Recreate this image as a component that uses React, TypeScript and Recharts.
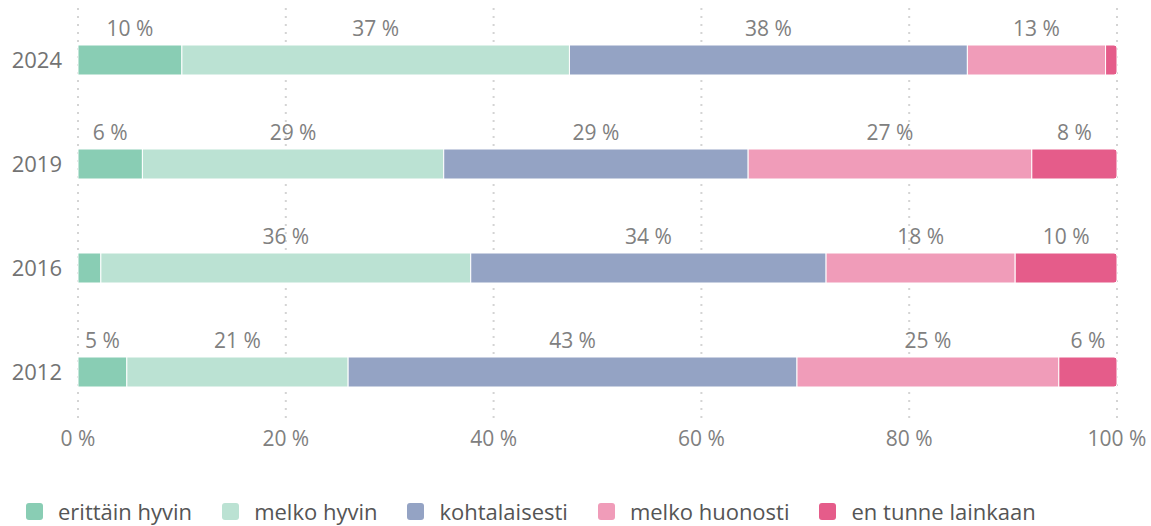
import React from "react";
import {
  BarChart,
  Bar,
  XAxis,
  YAxis,
  CartesianGrid,
  LabelList,
} from "recharts";

const YEARS = ["2024", "2019", "2016", "2012"];
const ERITTAIN_HYVIN = [10.0, 6.2, 2.2, 4.7];
const MELKO_HYVIN = [37.3, 29.0, 35.6, 21.3];
const KOHTALAISESTI = [38.3, 29.3, 34.2, 43.2];
const MELKO_HUONOSTI = [13.3, 27.3, 18.2, 25.2];
const EN_TUNNE = [1.1, 8.2, 9.8, 5.6];
const X_TICKS = [0, 20, 40, 60, 80, 100];

const SERIES = [
  { key: "erittainHyvin", name: "erittäin hyvin", color: "#89cdb4", values: ERITTAIN_HYVIN },
  { key: "melkoHyvin", name: "melko hyvin", color: "#bbe2d3", values: MELKO_HYVIN },
  { key: "kohtalaisesti", name: "kohtalaisesti", color: "#94a3c4", values: KOHTALAISESTI },
  { key: "melkoHuonosti", name: "melko huonosti", color: "#f09cb9", values: MELKO_HUONOSTI },
  { key: "enTunne", name: "en tunne lainkaan", color: "#e55c8a", values: EN_TUNNE },
];

const data = YEARS.map((year, i) => {
  const row: any = { year };
  SERIES.forEach(s => {
    row[s.key] = s.values[i];
  });
  return row;
});

const FONT = "'Open Sans', sans-serif";

// value label above each segment, small ones are skipped
const renderValueLabel = (props: any) => {
  const { x, y, width, value } = props;
  if (value == null || value < 3) return null;
  return (
    <text
      x={Number(x) + Number(width) / 2}
      y={Number(y) - 9}
      textAnchor="middle"
      fill="#808080"
      fontSize={21}
      fontFamily={FONT}
    >
      {Math.round(value)} %
    </text>
  );
};

export default function App() {
  return (
    <div style={{ position: "absolute", left: 0, top: 0, width: 1151, height: 526, background: "#fff", overflow: "hidden" }}>
      <BarChart
        width={1151}
        height={470}
        data={data}
        layout="vertical"
        margin={{ top: 8, right: 34, left: 0, bottom: 16 }}
        barSize={30}
      >
        <CartesianGrid
          horizontal={false}
          stroke="#d4d4d4"
          strokeWidth={2}
          strokeDasharray="2 6"
        />
        <XAxis
          type="number"
          domain={[0, 100]}
          ticks={X_TICKS}
          tickFormatter={(v: number) => `${v} %`}
          axisLine={false}
          tickLine={false}
          tickSize={6}
          tickMargin={1}
          height={30}
          tick={{ fill: "#808080", fontSize: 21, fontFamily: FONT }}
        />
        <YAxis
          type="category"
          dataKey="year"
          width={78}
          axisLine={false}
          tickLine={false}
          tickSize={0}
          tickMargin={16}
          tick={{ fill: "#737373", fontSize: 22, fontFamily: FONT }}
        />
        {SERIES.map((s, i) => (
          <Bar
            key={s.key}
            dataKey={s.key}
            name={s.name}
            stackId="a"
            fill={s.color}
            stroke="#fff"
            strokeWidth={1}
            radius={i === SERIES.length - 1 ? [0, 3, 3, 0] : 0}
            isAnimationActive={false}
          >
            <LabelList dataKey={s.key} content={renderValueLabel} />
          </Bar>
        ))}
      </BarChart>

      {/* legend */}
      <div
        style={{
          position: "absolute",
          left: 26,
          top: 500,
          display: "flex",
          alignItems: "center",
          fontFamily: FONT,
          fontSize: 22,
          color: "#555",
          whiteSpace: "nowrap",
        }}
      >
        {SERIES.map(s => (
          <div key={s.key} style={{ display: "flex", alignItems: "center", marginRight: 30 }}>
            <span
              style={{
                width: 17,
                height: 17,
                borderRadius: 3,
                background: s.color,
                display: "inline-block",
                marginRight: 15,
              }}
            />
            <span style={{ lineHeight: "22px" }}>{s.name}</span>
          </div>
        ))}
      </div>
    </div>
  );
}
